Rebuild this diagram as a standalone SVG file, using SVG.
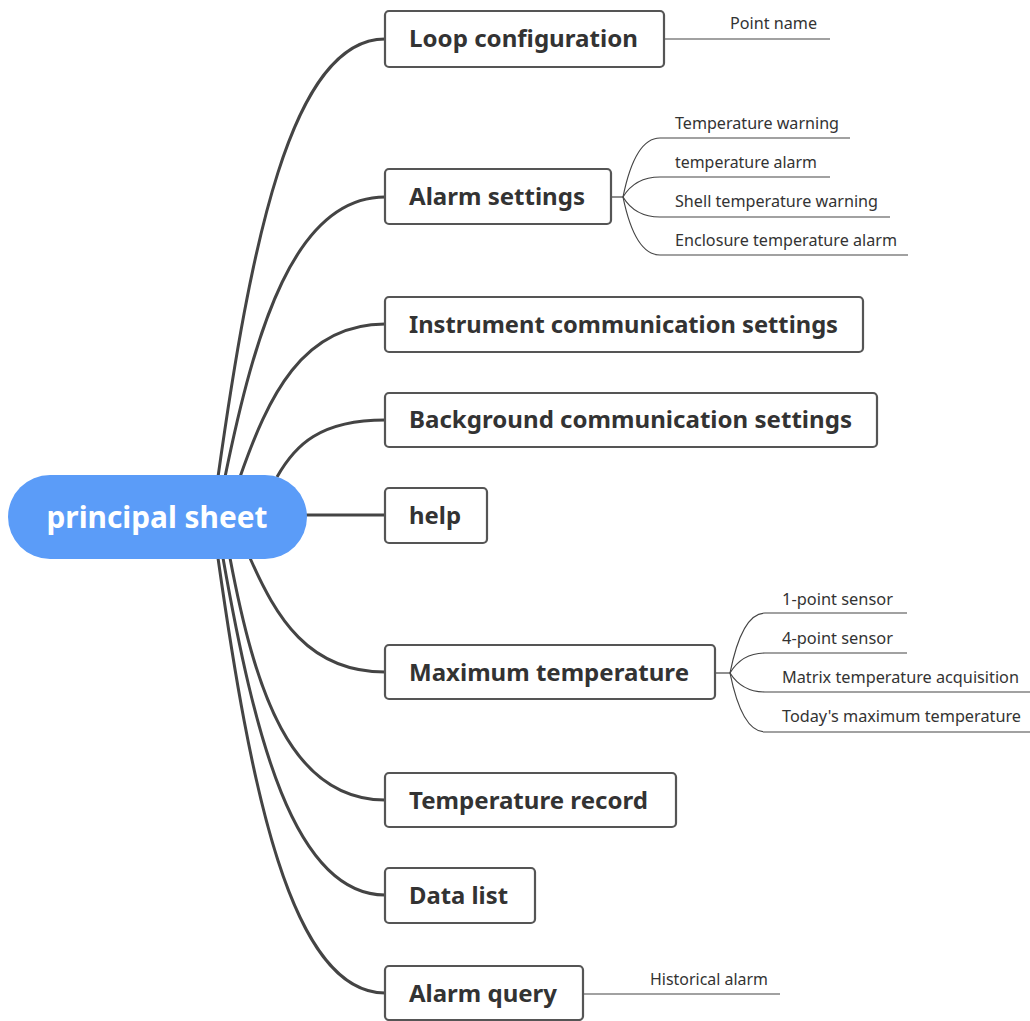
<svg xmlns="http://www.w3.org/2000/svg" width="1030" height="1021" viewBox="0 0 1030 1021">
<style>
.main rect{fill:#fff;stroke:#555;stroke-width:2.2}
.main text{font-family:"Noto Sans","Liberation Sans",sans-serif;font-weight:700;font-size:24px;fill:#333}
.sub text{font-family:"Noto Sans","Liberation Sans",sans-serif;font-size:16px;fill:#333}
.conn path{fill:none;stroke:#444;stroke-width:3}
.subconn path{fill:none;stroke:#444;stroke-width:1.2}
</style>
<rect width="1030" height="1021" fill="#fff"/>
<g id="connectors" class="conn">
<path d="M218,477 C250,250 290,39 385,39"/>
<path d="M225,477 C255,331 294,197 385,197"/>
<path d="M240,477 C268,397 302,324 385,324"/>
<path d="M277,477 C295,445 320,420 385,420"/>
<path d="M300,515 L385,515"/>
<path d="M250,558 C276,617 308,672 385,672"/>
<path d="M230,558 C255,690 290,800 385,800"/>
<path d="M223,558 C254,733 293,895 385,895"/>
<path d="M218,558 C250,784 290,993 385,993"/>
</g>
<g id="sub-connectors" class="subconn">
<path d="M664,39 L830,39"/>
<path d="M611,197 L623,197"/>
<path d="M623,197 Q635,138 660,138 L850,138"/>
<path d="M623,197 Q635,177 660,177 L830,177"/>
<path d="M623,197 Q635,217 660,217 L890,217"/>
<path d="M623,197 Q635,255 660,255 L908,255"/>
<path d="M715,673 L730,673"/>
<path d="M730,673 Q742,613 765,613 L907,613"/>
<path d="M730,673 Q742,653 765,653 L907,653"/>
<path d="M730,673 Q742,692 765,692 L1030,692"/>
<path d="M730,673 Q742,732 765,732 L1030,732"/>
<path d="M583,994 L780,994"/>
</g>
<g id="root">
<rect x="8" y="475" width="299" height="84" rx="42" fill="#5B9CF8"/>
<text x="157" y="528" text-anchor="middle" font-family="Noto Sans, Liberation Sans, sans-serif" font-weight="700" font-size="30" fill="#fff" textLength="221" lengthAdjust="spacingAndGlyphs">principal sheet</text>
</g>
<g id="n-loop" class="main"><rect x="385" y="11" width="279" height="56" rx="4"/><text x="409" y="47" textLength="229" lengthAdjust="spacingAndGlyphs">Loop configuration</text></g>
<g id="n-alarm" class="main"><rect x="385" y="169" width="226" height="55" rx="4"/><text x="409" y="205" textLength="176" lengthAdjust="spacingAndGlyphs">Alarm settings</text></g>
<g id="n-instr" class="main"><rect x="385" y="297" width="478" height="55" rx="4"/><text x="409" y="333" textLength="429" lengthAdjust="spacingAndGlyphs">Instrument communication settings</text></g>
<g id="n-bg" class="main"><rect x="385" y="393" width="492" height="54" rx="4"/><text x="409" y="428" textLength="443" lengthAdjust="spacingAndGlyphs">Background communication settings</text></g>
<g id="n-help" class="main"><rect x="385" y="488" width="102" height="55" rx="4"/><text x="409" y="524" textLength="52" lengthAdjust="spacingAndGlyphs">help</text></g>
<g id="n-max" class="main"><rect x="385" y="645" width="330" height="54" rx="4"/><text x="409" y="681" textLength="280" lengthAdjust="spacingAndGlyphs">Maximum temperature</text></g>
<g id="n-rec" class="main"><rect x="385" y="773" width="291" height="54" rx="4"/><text x="409" y="809" textLength="239" lengthAdjust="spacingAndGlyphs">Temperature record</text></g>
<g id="n-data" class="main"><rect x="385" y="868" width="150" height="55" rx="4"/><text x="409" y="904" textLength="99" lengthAdjust="spacingAndGlyphs">Data list</text></g>
<g id="n-query" class="main"><rect x="385" y="966" width="198" height="54" rx="4"/><text x="409" y="1002" textLength="148" lengthAdjust="spacingAndGlyphs">Alarm query</text></g>
<g id="s-point" class="sub"><text x="730" y="29" textLength="87" lengthAdjust="spacingAndGlyphs">Point name</text></g>
<g id="s-tw" class="sub"><text x="675" y="129" textLength="164" lengthAdjust="spacingAndGlyphs">Temperature warning</text></g>
<g id="s-ta" class="sub"><text x="675" y="168" textLength="142" lengthAdjust="spacingAndGlyphs">temperature alarm</text></g>
<g id="s-stw" class="sub"><text x="675" y="207" textLength="203" lengthAdjust="spacingAndGlyphs">Shell temperature warning</text></g>
<g id="s-eta" class="sub"><text x="675" y="246" textLength="222" lengthAdjust="spacingAndGlyphs">Enclosure temperature alarm</text></g>
<g id="s-1p" class="sub"><text x="782" y="605" textLength="111" lengthAdjust="spacingAndGlyphs">1-point sensor</text></g>
<g id="s-4p" class="sub"><text x="782" y="644" textLength="111" lengthAdjust="spacingAndGlyphs">4-point sensor</text></g>
<g id="s-mta" class="sub"><text x="782" y="683" textLength="237" lengthAdjust="spacingAndGlyphs">Matrix temperature acquisition</text></g>
<g id="s-tmt" class="sub"><text x="782" y="722" textLength="239" lengthAdjust="spacingAndGlyphs">Today's maximum temperature</text></g>
<g id="s-hist" class="sub"><text x="650" y="985" textLength="118" lengthAdjust="spacingAndGlyphs">Historical alarm</text></g>
</svg>
